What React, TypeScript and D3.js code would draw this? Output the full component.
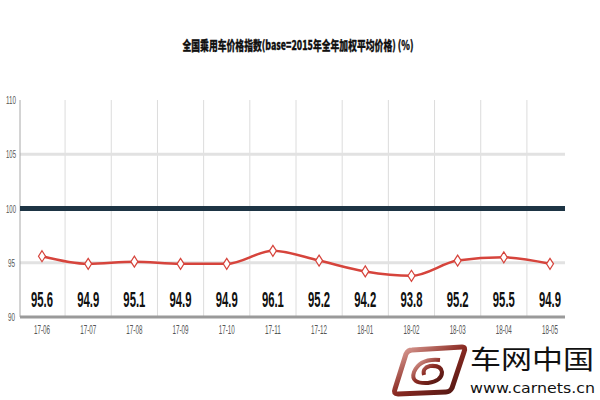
import React from "react";
import * as d3 from "d3";

const categories = ["17-06","17-07","17-08","17-09","17-10","17-11","17-12","18-01","18-02","18-03","18-04","18-05"];
const values = [95.6, 94.9, 95.1, 94.9, 94.9, 96.1, 95.2, 94.2, 93.8, 95.2, 95.5, 94.9];
const yTicks = [90, 95, 100, 105, 110];
const title = "全国乘用车价格指数(base=2015年全年加权平均价格) (%)";

export default function App() {
  const W = 600, H = 400;
  const left = 20, right = 565, top = 100, bottom = 317;
  const x = d3.scalePoint<string>().domain(categories).range([42, 550]);
  const y = d3.scaleLinear().domain([90, 110]).range([bottom, top]);
  const line = d3.line<number>().x((_, i) => x(categories[i])!).y(d => y(d)).curve(d3.curveMonotoneX);
  const step = x.step();
  const grids = categories.slice(0, -1).map(c => x(c)! + step / 2);
  const diamond = (cx: number, cy: number) => `M${cx},${cy - 5.5}L${cx + 3.5},${cy}L${cx},${cy + 5.5}L${cx - 3.5},${cy}Z`;
  return (
    <svg width={W} height={H} style={{ position: "absolute", left: 0, top: 0, background: "#fff" }}>
      <defs>
        <linearGradient id="lg" x1="0" y1="0" x2="1" y2="1">
          <stop offset="0" stopColor="#e8b0a8" />
          <stop offset="0.5" stopColor="#8a2a22" />
          <stop offset="1" stopColor="#4a1410" />
        </linearGradient>
      </defs>
      <text x={298} y={50} textAnchor="middle" fontFamily="'Noto Sans CJK SC'" fontWeight="900" fontSize={13} textLength={231} lengthAdjust="spacingAndGlyphs" fill="#111" stroke="#111" strokeWidth={0.3}>{title}</text>
      {grids.map((g, i) => <line key={i} x1={g} x2={g} y1={top} y2={bottom} stroke="#dcdcdc" strokeWidth={1} />)}
      {[95, 105].map(t => <line key={t} x1={left} x2={right} y1={y(t)} y2={y(t)} stroke="#e2e2e2" strokeWidth={3} />)}
      <line x1={left} x2={left} y1={top} y2={bottom} stroke="#a8a8a8" strokeWidth={1} />
      <line x1={left} x2={right} y1={y(100)} y2={y(100)} stroke="#1d3444" strokeWidth={5} />
      <line x1={left} x2={right} y1={bottom} y2={bottom} stroke="#9a9a9a" strokeWidth={3} />
      {yTicks.map(t => (
        <text key={t} x={t >= 100 ? 6 : 8} y={y(t) + 4} fontFamily="'Liberation Sans'" fontSize={11} fill="#555" textLength={t >= 100 ? 10 : 7} lengthAdjust="spacingAndGlyphs">{t}</text>
      ))}
      <path d={line(values)!} fill="none" stroke="#d6443c" strokeWidth={2.5} />
      {values.map((v, i) => (
        <path key={i} d={diamond(x(categories[i])!, y(v))} fill="#fff" stroke="#d6443c" strokeWidth={1.2} />
      ))}
      {values.map((v, i) => (
        <text key={"l" + i} x={x(categories[i])!} y={307} textAnchor="middle" fontFamily="'Liberation Sans'" fontWeight="bold" fontSize={22} textLength={22} lengthAdjust="spacingAndGlyphs" fill="#111">{v.toFixed(1)}</text>
      ))}
      {categories.map(c => (
        <text key={c} x={x(c)!} y={334} textAnchor="middle" fontFamily="'Liberation Sans'" fontSize={12} textLength={16} lengthAdjust="spacingAndGlyphs" fill="#555">{c}</text>
      ))}
      <g>
        <path d="M412,350 L462,347 Q466,347 464,352 L452,388 Q450,392 446,392 L398,394 Q393,394 395,389 L406,354 Q408,350 412,350 Z" fill="none" stroke="url(#lg)" strokeWidth={5} />
        <path d="M440,360 Q420,358 414,372 Q410,384 428,383 Q442,381 442,372 Q441,365 430,366 Q422,368 424,375" fill="none" stroke="url(#lg)" strokeWidth={4} />
      </g>
      <text x={470} y={369} fontFamily="'Noto Sans CJK SC'" fontSize={26} textLength={124} lengthAdjust="spacingAndGlyphs" fill="#111">车网中国</text>
      <text x={470} y={393} fontFamily="'DejaVu Sans'" fontSize={14} textLength={125} lengthAdjust="spacingAndGlyphs" fill="#111">www.carnets.cn</text>
    </svg>
  );
}
